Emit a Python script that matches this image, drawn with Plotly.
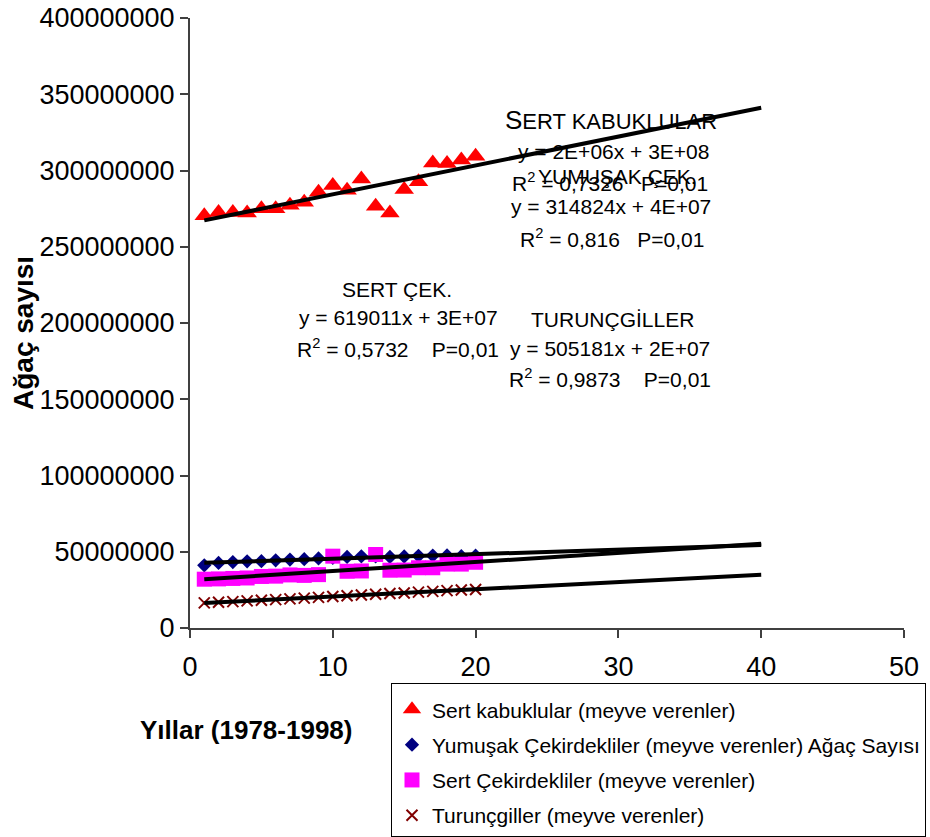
import numpy as np
import plotly.graph_objects as go

# ---- data ----
years = list(range(1, 21))
sert_kabuklular = [270.3, 272.5, 272.5, 272.2, 274.9, 274.9, 277.2, 279.2, 285.8, 290.2,
                   287.0, 294.5, 276.6, 272.2, 287.5, 292.7, 305.0, 304.6, 306.9, 309.4]
yumusak = [41.1, 42.7, 43.2, 43.7, 43.8, 44.4, 44.9, 45.1, 45.6, 46.0,
           46.6, 47.0, 47.0, 46.6, 46.9, 47.3, 47.5, 47.6, 47.1, 47.4]
sert_cek = [32.0, 32.2, 32.5, 32.8, 33.8, 34.0, 34.8, 34.5, 35.0, 47.1,
            37.2, 37.4, 48.2, 37.9, 38.0, 39.5, 39.5, 41.9, 41.9, 43.1]
turuncgiller = [16.5, 16.9, 17.3, 17.8, 18.2, 18.6, 19.1, 19.6, 20.1, 20.7,
                21.2, 21.6, 22.1, 22.6, 23.0, 23.5, 24.0, 24.5, 24.9, 25.3]
scale = 1e6
trend_x_end = 40

series_names = ["Sert kabuklular (meyve verenler)",
                "Yumuşak Çekirdekliler (meyve verenler) Ağaç Sayısı",
                "Sert Çekirdekliler (meyve verenler)",
                "Turunçgiller (meyve verenler)"]
y_ticks = list(range(0, 400000001, 50000000))
x_ticks = [0, 10, 20, 30, 40, 50]

FONT = "Arial, Liberation Sans, sans-serif"

fig = go.Figure()

styles = [
    dict(symbol="triangle-up", size=17, color="#FF0000"),
    dict(symbol="diamond", size=11, color="#000080"),
    dict(symbol="square", size=15, color="#FF00FF"),
    dict(symbol="x-thin", size=11, color="#800000", line=dict(color="#800000", width=2)),
]
data = [sert_kabuklular, yumusak, sert_cek, turuncgiller]

for i, (name, vals, st) in enumerate(zip(series_names, data, styles)):
    yv = [v * scale for v in vals]
    marker = dict(symbol=st["symbol"], size=st["size"], color=st["color"])
    if "line" in st:
        marker["line"] = st["line"]
    else:
        marker["line"] = dict(width=0)
    fig.add_trace(go.Scatter(x=years, y=yv, mode="markers", name=name, marker=marker,
                             legendgroup="g%d" % i, cliponaxis=False))

# linear trendlines (least-squares on the data, extended to x=40)
for vals in data:
    yv = np.array(vals) * scale
    k, b = np.polyfit(years, yv, 1)
    xs = np.array([years[0], trend_x_end])
    fig.add_trace(go.Scatter(x=xs, y=k * xs + b, mode="lines",
                             line=dict(color="black", width=4), showlegend=False,
                             hoverinfo="skip"))

L, R, T, B = 190, 26, 18, 209
PW, PH = 930 - L - R, 837 - T - B

def ann(x, y, text, size=21):
    fig.add_annotation(x=x, y=y, xref="x", yref="y", text=text, showarrow=False,
                       font=dict(family=FONT, size=size, color="black"),
                       xanchor="center", yanchor="middle")

def px2x(px):
    return (px - L) / PW * 50

def px2y(py):
    return (837 - B - py) / PH * 4e8

sp = "\u00a0"
ann(px2x(611), px2y(120), "S<span style='font-size:22px'>ERT KABUKLULAR</span>", size=26)
ann(px2x(613), px2y(151), "y = 2E+06x + 3E+08")
ann(px2x(610), px2y(182), "R<sup>2</sup> = 0,7326" + sp * 3 + "P=0,01")
ann(px2x(617), px2y(176), "YUMUŞAK ÇEK.")
ann(px2x(611), px2y(206), "y = 314824x + 4E+07")
ann(px2x(612), px2y(238), "R<sup>2</sup> = 0,816" + sp * 3 + "P=0,01")
ann(px2x(397), px2y(289), "SERT ÇEK.")
ann(px2x(398), px2y(317), "y = 619011x + 3E+07")
ann(px2x(398), px2y(348), "R<sup>2</sup> = 0,5732" + sp * 4 + "P=0,01")
ann(px2x(612), px2y(319), "TURUNÇGİLLER")
ann(px2x(610), px2y(348), "y = 505181x + 2E+07")
ann(px2x(610), px2y(378), "R<sup>2</sup> = 0,9873" + sp * 4 + "P=0,01")

# axis titles as annotations (placed as in the reference)
fig.add_annotation(xref="paper", yref="paper", x=(23 - L) / PW, y=(837 - B - 333) / PH,
                   xanchor="center", yanchor="middle",
                   text="<b>Ağaç sayısı</b>", showarrow=False, textangle=-90,
                   font=dict(family=FONT, size=28, color="black"))
fig.add_annotation(xref="paper", yref="paper", x=(246 - L) / PW, y=(837 - B - 730) / PH,
                   xanchor="center", yanchor="middle",
                   text="<b>Yıllar (1978-1998)</b>", showarrow=False,
                   font=dict(family=FONT, size=26, color="black"))

axis_col = "#404040"
fig.update_layout(
    width=930, height=837,
    margin=dict(l=L, r=R, t=T, b=B, autoexpand=False),
    paper_bgcolor="white", plot_bgcolor="white",
    font=dict(family=FONT, color="black"),
    showlegend=True,
    legend=dict(x=(391 - L) / PW, y=(837 - B - 683) / PH, xanchor="left", yanchor="top",
                bordercolor="black", borderwidth=1, bgcolor="white",
                font=dict(family=FONT, size=21, color="black"),
                title=dict(text=" ", font=dict(size=4)),
                tracegroupgap=5),
    xaxis=dict(range=[0, 50], tickvals=x_ticks, ticks="outside", ticklen=8, tickwidth=1.5,
               tickcolor=axis_col, showline=True, linecolor=axis_col, linewidth=2,
               showgrid=False, zeroline=False, automargin=False,
               tickfont=dict(size=27, family=FONT), ticklabelstandoff=6),
    yaxis=dict(range=[0, 4e8], tickvals=y_ticks, tickformat="d", ticks="outside", ticklen=8,
               tickwidth=1.5, tickcolor=axis_col, showline=True, linecolor=axis_col,
               linewidth=2, showgrid=False, zeroline=False, automargin=False,
               tickfont=dict(size=27, family=FONT), ticklabelstandoff=0),
    xaxis2=dict(range=[0, 50], tickvals=x_ticks, overlaying="x", anchor="y", side="bottom",
                ticks="inside", ticklen=8, tickwidth=1.5, tickcolor=axis_col,
                showticklabels=False, showline=False, showgrid=False, zeroline=False,
                automargin=False),
    yaxis2=dict(range=[0, 4e8], tickvals=y_ticks, overlaying="y", anchor="x", side="left",
                ticks="inside", ticklen=8, tickwidth=1.5, tickcolor=axis_col,
                showticklabels=False, showline=False, showgrid=False, zeroline=False,
                automargin=False),
)

fig.write_html("out.html", config={"displayModeBar": False},
               post_script="document.body.style.margin='0';document.body.style.overflow='hidden';")
